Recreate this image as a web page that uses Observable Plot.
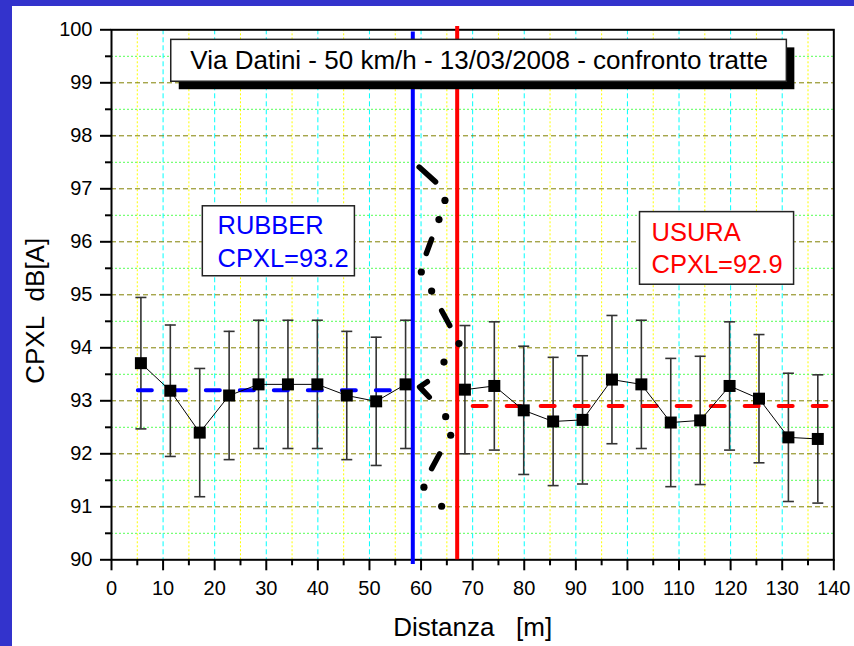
<!DOCTYPE html>
<html><head><meta charset="utf-8">
<script src="https://cdn.jsdelivr.net/npm/d3@7"></script>
<script src="https://cdn.jsdelivr.net/npm/@observablehq/plot@0.6"></script>
<style>
html,body{margin:0;padding:0;background:#3333cc;width:854px;height:646px;overflow:hidden}
#chart{position:absolute;left:12px;top:6px;width:842px;height:640px;background:#fff}
#chart svg{display:block}
</style></head><body><div id="chart"></div>
<script>
// ---- data ----
const rubberX   = [5.7, 11.4, 17.1, 22.8, 28.5, 34.2, 39.9, 45.6, 51.3, 57.0];
const rubberY   = [93.71, 93.19, 92.40, 93.10, 93.31, 93.31, 93.31, 93.10, 92.99, 93.31];
const rubberErr = [1.24, 1.24, 1.21, 1.21, 1.21, 1.21, 1.21, 1.21, 1.21, 1.21];
const usuraX    = [68.5, 74.2, 79.9, 85.6, 91.3, 97.0, 102.7, 108.4, 114.1, 119.8, 125.5, 131.2, 136.9];
const usuraY    = [93.21, 93.28, 92.82, 92.61, 92.64, 93.40, 93.31, 92.59, 92.63, 93.28, 93.04, 92.31, 92.28];
const usuraErr  = [1.21, 1.21, 1.21, 1.21, 1.21, 1.21, 1.21, 1.21, 1.21, 1.21, 1.21, 1.21, 1.21];
const rubberMean = 93.2, rubberMeanFrom = 5.2, rubberMeanTo = 57.5;
const usuraMean  = 92.9, usuraMeanFrom = 70.1, usuraMeanTo = 140;
const rubberLimitX = 58.4, rubberLimitY = [89.91, 99.96];
const usuraLimitX  = 67.0, usuraLimitY  = [90.0, 100.06];
// hand-drawn dash-dot-dot brace: dash pieces (grouped) and dots
const braceDashX = [59.63, 62.81, 62.05, 61.02, 64.00, 65.56, 61.22, 59.72, 61.59, 63.60, 62.05];
const braceDashY = [97.41, 97.13, 96.05, 95.78, 94.70, 94.42, 93.36, 93.26, 93.07, 92.00, 91.72];
const braceDashGroup = [0, 0, 1, 1, 2, 2, 3, 3, 3, 4, 4];
const braceDotX = [64.63, 63.47, 60.05, 62.05, 67.35, 64.44, 64.77, 65.74, 60.56, 63.99];
const braceDotY = [96.78, 96.42, 95.43, 95.07, 94.08, 93.73, 92.70, 92.35, 91.37, 91.01];
const xTicks = [0,10,20,30,40,50,60,70,80,90,100,110,120,130,140];
const xMinorTicks = [5,15,25,35,45,55,65,75,85,95,105,115,125,135];
const yTicks = [90,91,92,93,94,95,96,97,98,99,100];
const yMinorTicks = [90.5,91.5,92.5,93.5,94.5,95.5,96.5,97.5,98.5,99.5];
const xLabel = "Distanza\u00a0\u00a0\u00a0[m]";
const yLabel = "CPXL\u00a0\u00a0dB[A]";
const titleText = "Via Datini - 50 km/h - 13/03/2008 - confronto tratte";
const titleBoxX = [11.58, 130.9], titleBoxY = [99.02, 99.81], titleTextAt = [71.26, 99.264];
const rubberLines = ["RUBBER", "CPXL=93.2"];
const rubberBoxX = [17.70, 47.18], rubberBoxY = [95.35, 96.67], rubberTextX = 20.54, rubberTextY = [96.15, 95.53];
const usuraLines = ["USURA", "CPXL=92.9"];
const usuraBoxX = [102.44, 132.3], usuraBoxY = [95.19, 96.56], usuraTextX = 104.66, usuraTextY = [96.01, 95.41];

// ---- build tables ----
const rubber = rubberX.map((x, i) => ({x, y: rubberY[i], e: rubberErr[i]}));
const usura = usuraX.map((x, i) => ({x, y: usuraY[i], e: usuraErr[i]}));
const pts = [...rubber.map(d => ({...d, s: "R"})), ...usura.map(d => ({...d, s: "U"}))];
const caps = pts.flatMap(d => [{x: d.x, y: d.y - d.e}, {x: d.x, y: d.y + d.e}]);
const braceDashes = braceDashX.map((x, i) => ({x, y: braceDashY[i], g: braceDashGroup[i]}));
const braceDots = braceDotX.map((x, i) => ({x, y: braceDotY[i]}));
const capSymbol = {draw(ctx, size) { const w = Math.sqrt(size / Math.PI); ctx.moveTo(-w, 0); ctx.lineTo(w, 0); }};
const font = "'Liberation Sans', Arial, Helvetica, sans-serif";
const boxes = [{x1: titleBoxX[0], x2: titleBoxX[1], y1: titleBoxY[0], y2: titleBoxY[1]}];

const chart = Plot.plot({
  width: 842, height: 640,
  marginLeft: 99, marginRight: 20.7, marginTop: 23.3, marginBottom: 86.7,
  style: {fontFamily: font, fontSize: "20px", background: "white", color: "black", overflow: "visible"},
  x: {domain: [0, 140], label: null},
  y: {domain: [90, 100], label: null},
  marks: [
    // grid
    Plot.ruleX(xMinorTicks, {stroke: "#ffff00", strokeWidth: 1, strokeDasharray: "2,2"}),
    Plot.ruleY(yMinorTicks, {stroke: "#55ff55", strokeWidth: 1, strokeDasharray: "2,2"}),
    Plot.ruleX(xTicks.slice(1, -1), {stroke: "#00ffff", strokeWidth: 1, strokeDasharray: "5,3"}),
    Plot.ruleY(yTicks.slice(1, -1), {stroke: "#808000", strokeWidth: 1, strokeDasharray: "5,3"}),
    // axes
    Plot.axisX(xTicks, {tickSize: 11, tickPadding: 10, strokeWidth: 2, fontSize: 20, tickFormat: d => String(d), label: null}),
    Plot.axisX(xMinorTicks, {tickSize: 6, strokeWidth: 2, tickFormat: () => "", label: null}),
    Plot.axisY(yTicks, {tickSize: 11, tickPadding: 8, strokeWidth: 2, fontSize: 20, tickFormat: d => String(d), label: null}),
    Plot.axisY(yMinorTicks, {tickSize: 6, strokeWidth: 2, tickFormat: () => "", label: null}),
    Plot.frame({stroke: "black", strokeWidth: 2}),
    // error bars
    Plot.ruleX(pts, {x: "x", y1: d => d.y - d.e, y2: d => d.y + d.e, stroke: "#333", strokeWidth: 1.6}),
    Plot.dot(caps, {x: "x", y: "y", symbol: capSymbol, r: 5.5, fill: "none", stroke: "#333", strokeWidth: 1.6}),
    // mean lines
    Plot.ruleY([rubberMean], {x1: rubberMeanFrom, x2: rubberMeanTo, stroke: "#0000ff", strokeWidth: 4, strokeDasharray: "14,20", strokeLinecap: "round"}),
    Plot.ruleY([usuraMean], {x1: usuraMeanFrom, x2: usuraMeanTo, stroke: "#ff0000", strokeWidth: 4, strokeDasharray: "14,20", strokeLinecap: "round"}),
    // section limits
    Plot.ruleX([rubberLimitX], {y1: rubberLimitY[0], y2: rubberLimitY[1], stroke: "#0000ff", strokeWidth: 4}),
    Plot.ruleX([usuraLimitX], {y1: usuraLimitY[0], y2: usuraLimitY[1], stroke: "#ff0000", strokeWidth: 4}),
    // data
    Plot.line(pts, {x: "x", y: "y", z: "s", stroke: "black", strokeWidth: 1}),
    Plot.dot(pts, {x: "x", y: "y", symbol: "square", r: 6.77, fill: "black", stroke: "none"}),
    // brace
    Plot.line(braceDashes, {x: "x", y: "y", z: "g", stroke: "black", strokeWidth: 5.5, strokeLinecap: "round", strokeLinejoin: "round"}),
    Plot.dot(braceDots, {x: "x", y: "y", r: 3.6, fill: "black", stroke: "none"}),
    // title box
    Plot.rect(boxes, {x1: "x1", x2: "x2", y1: "y1", y2: "y2", fill: "black", dx: 8, dy: 8}),
    Plot.rect(boxes, {x1: "x1", x2: "x2", y1: "y1", y2: "y2", fill: "white", stroke: "#222", strokeWidth: 1.5}),
    Plot.text([titleText], {x: titleTextAt[0], y: titleTextAt[1], text: d => d, fontSize: 26, lineAnchor: "bottom", textAnchor: "middle", fill: "black"}),
    // RUBBER box
    Plot.rect([0], {x1: rubberBoxX[0], x2: rubberBoxX[1], y1: rubberBoxY[0], y2: rubberBoxY[1], fill: "white", stroke: "#222", strokeWidth: 1.5}),
    Plot.text(rubberLines, {x: rubberTextX, y: (d, i) => rubberTextY[i], text: d => d, fontSize: 25.5, lineAnchor: "bottom", textAnchor: "start", fill: "#0000ff"}),
    // USURA box
    Plot.rect([0], {x1: usuraBoxX[0], x2: usuraBoxX[1], y1: usuraBoxY[0], y2: usuraBoxY[1], fill: "white", stroke: "#222", strokeWidth: 1.5}),
    Plot.text(usuraLines, {x: usuraTextX, y: (d, i) => usuraTextY[i], text: d => d, fontSize: 25.5, lineAnchor: "bottom", textAnchor: "start", fill: "#ff0000"}),
    // axis labels
    Plot.text([xLabel], {frameAnchor: "bottom", text: d => d, dy: 75.7, lineAnchor: "bottom", textAnchor: "middle", fontSize: 26, fill: "black"}),
    Plot.text([yLabel], {frameAnchor: "left", text: d => d, rotate: -90, dx: -76, dy: 16, textAnchor: "middle", lineAnchor: "middle", fontSize: 26, fill: "black"})
  ]
});
document.getElementById("chart").appendChild(chart);
</script>
</body></html>
